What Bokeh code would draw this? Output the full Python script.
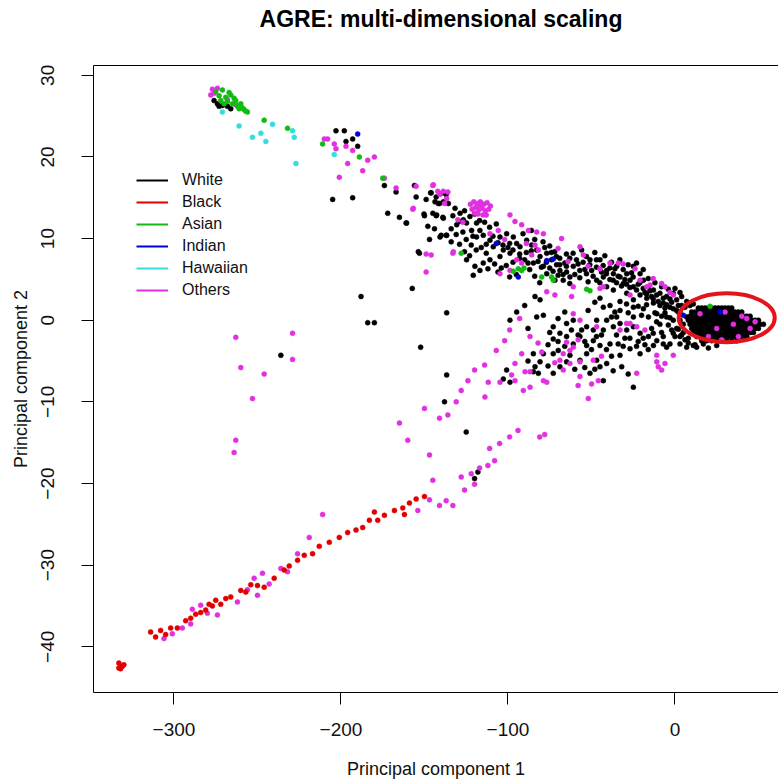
from bokeh.plotting import figure
from bokeh.models import Range1d, FixedTicker, Legend, LegendItem, LinearAxis
from bokeh.embed import file_html
from bokeh.resources import INLINE

# ---------------- data ----------------
groups = ["White", "Black", "Asian", "Indian", "Hawaiian", "Others"]
group_colors = ["#000000", "#e00000", "#11bb11", "#0000dd", "#33dddd", "#e030e0"]

white_pts = [
    (-276, 26.9), (-274, 26.5), (-271, 26.3), (-268, 26.2), (-266, 25.9), (-273, 26.2),
    (-203, 23.2), (-198, 23.2), (-197, 21.9), (-193, 22.2), (-190, 21.3),
    (-205, 14.8), (-193, 15.0), (-174, 16.5), (-167, 15.7), (-172, 13.1), (-165, 12.6), (-161, 11.9),
    (-156, 16.5), (-155, 15.1), (-149, 14.8), (-146, 15.6), (-143, 15.1), (-141, 14.3), (-139, 15.6), (-137, 15.4),
    (-145, 13.1), (-143, 12.8), (-139, 12.6), (-150, 12.8), (-153, 8.2), (-140, 10.4), (-137, 10.4),
    (-146.3, 15.6), (-143.7, 14.5), (-141.7, 14.3), (-138.7, 14.5), (-135.7, 14.3), (-150.3, 13.0),
    (-142.7, 12.9), (-138.7, 12.5), (-160.7, 11.9), (-140.7, 10.2), (-136.7, 10.4), (-153.7, 8.4),
    (-157.3, 3.9), (-136.7, 0.9), (-152.3, -3.3), (-136.7, -6.7),
    (-131.7, 13.7), (-128.7, 13.1), (-126.7, 12.3), (-122.8, 12.7), (-124.8, 11.9), (-118.8, 11.9),
    (-130.7, 11.7), (-121.8, 11.0), (-116.8, 11.0), (-118.8, 10.2), (-114.8, 10.4), (-110.8, 9.8),
    (-104.8, 10.2), (-100.8, 10.6), (-96.8, 10.2), (-108.8, 9.0), (-102.8, 8.6), (-98.8, 8.2),
    (-124.8, 7.4), (-119.8, 6.6), (-114.8, 7.0), (-110.8, 7.4), (-104.8, 7.8), (-120.8, 5.5),
    (-116.8, 6.1), (-94.8, 9.4), (-92.8, 9.0), (-88.8, 9.8), (-85.8, 9.2), (-82.8, 8.6), (-80.8, 7.8),
    (-76.8, 8.2), (-73.9, 7.4), (-70.9, 6.8), (-68.9, 6.1), (-64.9, 5.9), (-62.9, 5.3), (-60.9, 6.6),
    (-78.8, 6.6), (-84.8, 7.0), (-76.8, 5.7), (-71.9, 4.9), (-66.9, 4.9), (-55.9, 8.6), (-50.9, 7.4),
    (-49.9, 6.1), (-44.9, 7.4), (-46.9, 4.9), (-42.9, 5.3), (-40.9, 6.1), (-36.9, 5.7), (-34.9, 6.6),
    (-32.9, 5.3), (-28.9, 5.7), (-30.9, 4.5), (-26.9, 4.9), (-24.9, 4.1), (-40.9, 4.1), (-36.9, 3.7),
    (-24.9, 6.6), (-20.9, 5.7), (-18.9, 4.9), (-15.9, 4.1), (-12.9, 3.7), (-9.0, 3.3), (-5.0, 2.9),
    (-1.0, 3.3), (1.0, 2.5), (4.0, 2.9), (7.0, 2.3), (-7.0, 2.1), (-3.0, 1.6), (-12.9, 2.1),
    (-28.9, 3.3), (-20.9, 3.1), (-16.9, 2.7), (-24.9, 2.5),
    (-127, 10.8), (-125, 9.9), (-122, 9.2), (-119, 8.6), (-116, 8.9), (-113, 8.2), (-112, 6.3),
    (-108, 6.9), (-106, 5.9), (-101, 6.7), (-97, 7.1), (-95, 5.6), (-90, 7.4), (-87, 6.2), (-84, 5.4),
    (-81, 4.6), (-73, 6.0), (-70, 5.5), (-66, 7.0), (-63, 7.6), (-58, 6.9), (-57, 5.2), (-54, 6.2),
    (-52, 4.7), (-47, 6.5), (-44, 5.9), (-39, 5.0), (-35, 4.6), (-31, 6.2), (-29, 4.4), (-26, 5.8),
    (-22, 4.4), (-18, 3.4), (-14, 2.9), (-10, 2.3), (-6, 1.5), (-2, 2.2), (2, 1.8),
    (-133, 12.8), (-129, 12.1), (-126, 13.4), (-120, 13.0), (-134, 11.2), (-111, 11.4), (-107, 11.8),
    (-99, 9.4), (-91, 10.6), (-89, 8.3), (-86, 11.0), (-79, 9.6), (-75, 9.1), (-72, 8.4), (-69, 7.6),
    (-65, 8.1), (-61, 8.2), (-53, 7.8), (-48, 8.3), (-42, 7.9), (-38, 7.1), (-33, 7.4), (-28, 6.8),
    (-23, 7.0), (-19, 6.2), (-16, 5.1), (-12, 4.6), (-8, 4.1), (-4, 3.8), (0, 3.9), (3, 3.4),
    (-148, 11.5), (-144, 11.2), (-147, 9.9), (-131, 10.5), (-129, 9.3), (-134, 9.6), (-126, 8.4),
    (-123, 7.9), (-121, 10.3), (-117, 12.2), (-114, 12.0), (-113, 9.3), (-109, 10.3), (-106, 9.5),
    (-103, 9.2), (-100, 8.9), (-104, 6.4), (-99, 5.3), (-97, 8.6), (-93, 8.1), (-93, 7.6), (-88, 7.0),
    (-86, 8.5), (-84, 9.9), (-82, 7.2), (-80, 6.5), (-78, 8.9), (-77, 7.1), (-75, 6.4), (-74, 8.3),
    (-71, 7.8), (-69, 6.8), (-67, 5.6), (-65, 6.6), (-63, 4.5), (-60, 5.6), (-59, 7.4), (-57, 6.1),
    (-55, 7.1), (-53, 5.7), (-51, 6.8), (-49, 5.4), (-47, 7.4), (-45, 4.6), (-43, 6.7), (-41, 5.7),
    (-39, 6.4), (-37, 4.9), (-36, 6.3), (-34, 5.4), (-32, 4.2), (-30, 5.0), (-27, 4.0), (-25, 5.3),
    (-23, 3.7), (-21, 4.6), (-19, 3.9), (-17, 3.2), (-15, 3.6), (-13, 2.6), (-11, 3.1), (-9, 1.8),
    (-7, 2.7), (-5, 1.9), (-3, 2.6), (-1, 1.4), (1, 1.2), (4, 1.8),
    (-44.9, 2.7), (-42.9, 1.6), (-38.9, 1.8), (-32.9, 2.3), (-32.9, 1.2), (-24.9, 1.6), (-18.9, 1.4),
    (-15.9, 0.4), (-10.9, 0.8), (-5.0, 0.4), (-1.0, 0.0), (3.0, 0.0), (-24.9, 0.4), (-34.9, 0.4),
    (-40.9, 0.0), (-46.9, 0.0), (-52.9, -0.8), (-55.9, -1.2), (-48.9, -1.2), (-42.9, -1.2),
    (-36.9, -0.8), (-32.9, -0.4), (-28.9, -1.2), (-24.9, -0.8), (-20.9, -1.6), (-15.9, -2.0),
    (-10.9, -2.5), (-7.0, -2.9), (-3.0, -2.9), (3.0, -2.9), (7.0, -3.3), (11.0, -3.1), (17.0, -2.9),
    (25.0, -3.1), (-60.9, 0.0), (-64.9, -0.4), (-68.9, -1.6), (-72.9, -0.8), (-78.8, 0.6),
    (-82.8, 0.4), (-83.8, 2.9), (-80.8, 2.5), (-94.8, 1.0), (-98.8, 0.0), (-72.9, -2.3),
    (-64.9, -2.0), (-56.9, -2.0), (-48.9, -2.5), (-44.9, -3.1), (-38.9, -2.9), (-52.9, -3.1),
    (-60.9, -2.9), (-69.9, -3.7), (-62.9, -4.3), (-56.9, -4.9), (-52.9, -4.1), (-46.9, -4.9),
    (-40.9, -5.3), (-84.8, -4.1), (-78.8, -4.1), (-72.9, -4.1), (-80.8, -5.1), (-83.8, -5.7),
    (-84.8, -6.3), (-81.8, -6.5), (-72.9, -6.5), (-68.9, -5.7), (-64.9, -5.1), (-50.9, -6.5),
    (-44.9, -5.7), (-42.9, -7.4), (-32.9, -4.3), (-20.9, -4.1), (-26.9, -3.5), (-12.9, -3.1),
    (-5.0, -3.3), (-100.8, -6.1), (-102.8, -7.2), (-98.8, -7.6), (-24.9, -8.2), (-31.9, -5.7),
    (-14, -1.0), (-8, -1.5), (-2, -1.2), (0, -2.0), (-6, 0.9), (-20, 0.6), (-28, 0.9), (-36, 1.0),
    (-30, -2.2), (-34, -2.9), (-18, -3.0), (-22, -2.6), (-9, -0.5), (2, 1.0), (5, -1.5),
    (-58, -1.8), (-54, -2.6), (-50, -3.6), (-47, -2.0), (-44, -1.8), (-41, -3.6), (-38, -4.4),
    (-35, -1.8), (-31, -3.2), (-27, -2.2), (-23, -3.2), (-19, -2.2), (-16, -3.6), (-13, -1.6),
    (-11, -0.2), (-7, -2.0), (-4, -0.6), (-1, -1.6), (-62, -1.2), (-66, -3.2), (-70, -2.6),
    (-75, -1.5), (-76, -3.0), (-88, -1.0), (-90, 1.8), (-66, 1.0), (-70, 0.2), (-52, 1.2),
    (-48, 2.2), (-38, 0.4), (-29, 2.0), (-22, 1.7), (-17, 1.9), (-12, 0.9), (-8, 0.5), (-3, 0.3),
    (1, -1.0), (3, -2.0), (8, -2.2), (13, -3.3), (20, -3.4), (-88, -5.0), (-76, -5.6), (-60, -6.0),
    (-54, -5.8), (-48, -6.0), (-37, -6.2), (-28, -6.6),
    (-188, 2.9), (-184, -0.3), (-180, -0.3), (-236, -4.3), (-138, -10.0), (-125, -13.7),
    (-120, -19.4), (-118, -18.6),
    (3, 1.0), (5, -0.5), (6, 1.6), (4, -1.8), (7, 0.4), (2, -1.1), (6, -2.4), (9, 1.8), (8, -2.8),
    (11, 2.0), (12, -3.0),
]

# dense core of White samples (inside the red ring), listed row by row: y -> x values
white_core_rows = {
    1.5: [14, 16, 18, 20, 22, 24, 26, 28, 30, 32, 34],
    1.0: [10, 12, 14, 16, 18, 20, 22, 24, 26, 28, 30, 32, 34, 36, 38, 40],
    0.5: [9, 11, 13, 15, 17, 19, 21, 23, 25, 27, 29, 31, 33, 35, 37, 39, 41, 43, 45],
    0.0: [8, 10, 12, 14, 16, 18, 20, 22, 24, 26, 28, 30, 32, 34, 36, 38, 40, 42, 44, 46, 48, 50],
    -0.5: [9, 11, 13, 15, 17, 19, 21, 23, 25, 27, 29, 31, 33, 35, 37, 39, 41, 43, 45, 47, 49, 51, 53],
    -1.0: [10, 12, 14, 16, 18, 20, 22, 24, 26, 28, 30, 32, 34, 36, 38, 40, 42, 44, 46, 48, 50],
    -1.5: [11, 13, 15, 17, 19, 21, 23, 25, 27, 29, 31, 33, 35, 37, 39, 41, 43, 45, 47],
    -2.0: [13, 15, 17, 19, 21, 23, 25, 27, 29, 31, 33, 35, 37, 39, 41, 43],
    -2.5: [16, 19, 22, 25, 28, 31, 34, 37],
}

black_pts = [
    (-333, -42.0), (-331, -42.4), (-332, -42.7), (-330, -42.2), (-333, -42.6),
    (-314, -38.2), (-311, -38.8), (-308, -38.0), (-305, -38.5), (-302, -37.7), (-298, -37.7),
    (-293, -36.8), (-290, -36.5), (-287, -36.0), (-284, -35.8), (-281, -35.5), (-279, -34.8),
    (-277, -35.0), (-275, -34.3), (-272, -34.8), (-269, -34.1), (-266, -33.9), (-260, -33.1),
    (-257, -33.3), (-254, -32.4), (-250, -32.5), (-246, -32.7), (-240, -31.6), (-234, -30.6),
    (-231, -30.1), (-226, -29.4), (-222, -28.8), (-217, -28.6), (-213, -27.7), (-207, -27.2),
    (-201, -26.6), (-196, -26.0), (-191, -25.7), (-187, -25.4), (-183, -24.5), (-178, -24.5),
    (-174, -23.9), (-168, -23.3), (-163, -23.0), (-159, -22.4), (-155, -21.9), (-150, -21.6),
    (-162, -23.8), (-180, -23.5),
]

asian_pts = [
    (-275, 28.0), (-273, 27.5), (-271, 28.2), (-269, 27.3), (-268, 26.8), (-266, 27.6), (-265, 26.5),
    (-263, 26.9), (-262, 26.2), (-260, 26.5), (-258, 25.8), (-257, 25.6), (-270, 26.5), (-267, 27.9),
    (-264, 27.2), (-261, 25.9), (-272, 26.9), (-259, 26.0), (-256, 25.5),
    (-246, 24.5), (-232, 23.5), (-211, 21.6), (-189, 20.0), (-175, 17.4), (-128, 8.2),
    (-96.8, 6.0), (-93.8, 6.3), (-91.8, 6.1), (-90.4, 6.4), (-79.8, 5.3), (-73.9, 5.3), (-72.9, 4.9),
    (-52.9, 3.8), (-50.9, 3.6), (21, 1.7),
]

indian_pts = [
    (-190, 22.8), (-107, 9.4), (-76.8, 7.3), (-72.9, 7.5), (-93.8, 5.3), (5, 0.6), (27, 1.0),
]

hawaiian_pts = [
    (-271, 25.5), (-261, 23.8), (-253, 22.4), (-248, 22.9), (-245, 21.9), (-241, 24.0),
    (-229, 23.2), (-228, 22.4), (-227, 19.2), (-204, 20.3),
]

others_pts = [
    (-277, 28.3), (-276, 27.8), (-274, 28.4), (-278, 27.6), (-268, 27.0), (-263, 26.4),
    (-210, 22.2), (-208, 22.2), (-204, 21.6), (-203, 21.0), (-197, 21.3), (-193, 20.8), (-196, 19.2),
    (-201, 17.5), (-187, 18.3), (-184, 19.6), (-180, 20.0), (-174, 17.4), (-167, 16.2), (-157, 13.6),
    (-155, 16.4), (-145, 16.5), (-142, 15.8), (-136, 15.7), (-138, 14.3), (-149, 8.1), (-146, 8.0),
    (-149, 5.9), (-133, 8.2),
    (-144.7, 16.6), (-138.7, 15.8), (-140.7, 15.4), (-136.7, 14.9), (-156.7, 13.7),
    (-111.8, -7.6), (-113.8, -9.4),
    (-122.5, 14.2), (-120.5, 14.5), (-118.5, 14.3), (-116.5, 14.5), (-114.5, 14.2), (-112.5, 14.4),
    (-110.5, 14.0), (-121.5, 13.6), (-119.5, 13.8), (-117.5, 13.5), (-115.5, 13.7), (-113.5, 13.4),
    (-111.5, 13.6), (-118, 13.0), (-115, 12.9), (-120, 13.1), (-113, 12.9), (-117, 14.0),
    (-132.7, 8.4), (-98.8, 12.9), (-95.8, 12.1), (-91.8, 11.7), (-87.8, 11.0), (-82.8, 10.8),
    (-78.8, 10.6), (-67.9, 10.0), (-83.8, 9.2), (-81.8, 8.6), (-85.8, 8.0), (-104.8, 5.7),
    (-98.8, 6.1), (-105.8, 11.0), (-110.8, 10.6), (-94.8, 7.4), (-91.8, 7.0), (-76.8, 3.5),
    (-71.9, 3.1), (-60.9, 4.1), (-61.9, 2.9), (-44.9, 6.3), (-38.9, 7.0), (-33.9, 7.0), (-44.9, 3.9),
    (-42.9, 4.1), (-26.9, 3.1), (-23.9, 6.3), (-20.9, 4.9), (-16.9, 4.1), (-14.9, 4.3), (-8.0, 4.5),
    (-6.0, 4.1), (-1.0, 3.1), (-56.9, 9.0), (-54.9, 8.0),
    (-130, 12.3), (-127, 12.0), (-102, 9.9), (-89, 9.4), (-70, 8.8), (-64, 7.2), (-52, 6.6),
    (-31, 6.9), (-13, 5.1), (-3, 3.4), (-29, -0.4), (-18, -1.2), (-58, -2.4), (-44, -4.4),
    (-82, -2.8), (-72, -5.2), (-58, -8.0),
    (-60.9, 0.8), (-56.9, 0.0), (-46.9, -0.8), (-32.9, -1.2), (-26.9, -0.4), (-22.9, -0.8),
    (-64.9, -2.7), (-60.9, -3.3), (-62.9, -3.7), (-66.9, -4.1), (-91.8, -4.1), (-79.8, -3.9),
    (-86.8, -2.0), (-68.9, -4.9), (-62.9, -5.3), (-56.9, -5.1), (-48.9, -4.9), (-86.8, -6.3),
    (-89.8, -6.3), (-95.8, -5.3), (-97.8, -6.7), (-95.8, -7.4), (-104.8, -7.6), (-78.8, -7.4),
    (-76.8, -7.6), (-66.9, -6.1), (-56.9, -6.9), (-49.9, -7.8), (-45.9, -7.4), (-22.9, -6.5),
    (-10.9, -4.3), (-10.9, -5.1), (-10.0, -5.7), (-6.0, -5.3), (-8.0, -6.1), (-1.0, -4.3),
    (-90.8, -8.6), (-86.8, -8.2), (-51.9, -9.6),
    (25, -1.0), (35, -0.5), (40, 0.5), (45, -1.0), (20, -2.0), (30, 1.0), (48, -0.2), (15, 0.8),
    (38, -2.0), (28, -2.4), (43, 0.2),
    (-301, -38.4), (-295, -37.7), (-306, -39.0), (-290, -37.2), (-280, -35.9), (-274, -36.1),
    (-262, -34.5), (-256, -33.0), (-252, -31.6), (-247, -31.0), (-250, -33.7), (-243, -32.3),
    (-236, -30.4), (-232, -30.8), (-219, -26.6), (-211, -23.8), (-226, -28.6), (-289, -35.4),
    (-284, -34.9),
    (-154, -23.3), (-147, -22.0), (-141, -22.7), (-137, -22.1), (-133, -22.7), (-126, -20.8),
    (-122, -18.8), (-117, -18.1), (-112, -17.8), (-108, -17.2), (-111, -15.7), (-105, -15.1),
    (-99, -14.3), (-94, -13.5), (-81, -14.3), (-78, -14.0), (-120, -20.1), (-128, -19.2),
    (-145, -19.6),
    (-263, -2.1), (-260, -5.8), (-263, -14.7), (-264, -16.2), (-253, -9.6), (-246, -6.6),
    (-229, -4.8), (-229, -1.6),
    (-165, -12.6), (-160, -14.7), (-150, -10.8), (-147, -16.5), (-141, -12.0), (-136, -11.6),
    (-131, -10.0), (-128, -8.6), (-124, -7.4), (-120, -6.1), (-114, -5.5), (-107, -3.7),
    (-102, -2.5), (-99, -1.2), (-93, 0.2),
]

x_ticks = [-300, -200, -100, 0]
y_ticks = [-40, -30, -20, -10, 0, 10, 20, 30]
x_limits = (-348.2, 62.0)
y_limits = (-45.6, 31.2)

# highlighted cluster (red ring annotation)
ring_center = (31.0, 0.3)
ring_size = (57.5, 6.0)

# legend swatches are drawn from lines that lie outside the visible range
legend_swatch_x = [-1000, -999]
legend_swatch_y = [-1000, -1000]

title_text = "AGRE: multi-dimensional scaling"
x_label = "Principal component 1"
y_label = "Principal component 2"

# ---------------- build ----------------
white_all = list(white_pts)
for yy, xs in white_core_rows.items():
    for xx in xs:
        white_all.append((xx, yy))

series = {
    "White": white_all,
    "Black": black_pts,
    "Asian": asian_pts,
    "Indian": indian_pts,
    "Hawaiian": hawaiian_pts,
    "Others": others_pts,
}
color_of = dict(zip(groups, group_colors))

FONT = "Liberation Sans"

p = figure(width=778, height=782, output_backend="svg", toolbar_location=None,
           x_range=Range1d(*x_limits), y_range=Range1d(*y_limits),
           min_border_left=93, min_border_right=0, min_border_top=65, min_border_bottom=90,
           background_fill_color="white", border_fill_color="white")

p.title.text = title_text
p.title.align = "center"
p.title.vertical_align = "bottom"
p.title.text_font = FONT
p.title.text_font_size = "23px"
p.title.text_font_style = "bold"
p.title.text_color = "black"
p.title.standoff = 0
p.title.padding = dict(left=10, right=0, top=0, bottom=34)

p.xgrid.visible = False
p.ygrid.visible = False
p.outline_line_color = None

for ax in (p.xaxis[0], p.yaxis[0]):
    ax.axis_line_color = "black"
    ax.major_tick_line_color = "black"
    ax.major_tick_out = 12
    ax.major_tick_in = 0
    ax.minor_tick_line_color = None
    ax.major_label_text_font = FONT
    ax.major_label_text_font_size = "19px"
    ax.major_label_text_color = "#111111"
    ax.axis_label_text_font = FONT
    ax.axis_label_text_font_size = "18px"
    ax.axis_label_text_font_style = "normal"
    ax.axis_label_text_color = "#111111"

p.xaxis.ticker = FixedTicker(ticks=x_ticks)
p.yaxis.ticker = FixedTicker(ticks=y_ticks)
p.xaxis.axis_label = x_label
p.yaxis.axis_label = y_label
p.xaxis.major_label_standoff = 18
p.xaxis.axis_label_standoff = 20
p.yaxis.major_label_orientation = "vertical"
p.yaxis.major_label_standoff = 28
p.yaxis.axis_label_standoff = 7

# top border of the box: a bare axis with no ticks and no labels
top_axis = LinearAxis(ticker=FixedTicker(ticks=[]), axis_line_color="black",
                      major_tick_out=0, major_tick_in=0, major_tick_line_color=None,
                      minor_tick_line_color=None, major_label_standoff=0,
                      major_label_text_font_size="1px")
p.add_layout(top_axis, "above")

draw_order = ["White", "Others", "Black", "Asian", "Hawaiian", "Indian"]
for g in draw_order:
    pts = series[g]
    p.scatter([q[0] for q in pts], [q[1] for q in pts], size=5,
              fill_color=color_of[g], line_color=color_of[g], line_width=0.5)

p.ellipse(x=[ring_center[0]], y=[ring_center[1]], width=ring_size[0], height=ring_size[1],
          fill_color=None, line_color="#e3141b", line_width=4)

items = []
for g in groups:
    r = p.line(x=legend_swatch_x, y=legend_swatch_y, line_color=color_of[g], line_width=2)
    items.append(LegendItem(label=g, renderers=[r]))

legend = Legend(items=items, location=(43, 391), orientation="vertical",
                label_text_font=FONT, label_text_font_size="16px", label_text_color="#111111",
                glyph_width=32, glyph_height=22, label_height=22, label_standoff=14,
                spacing=0, padding=0, margin=0, border_line_color=None,
                background_fill_alpha=0)
p.add_layout(legend)

open("out.html", "w").write(file_html(p, INLINE))
